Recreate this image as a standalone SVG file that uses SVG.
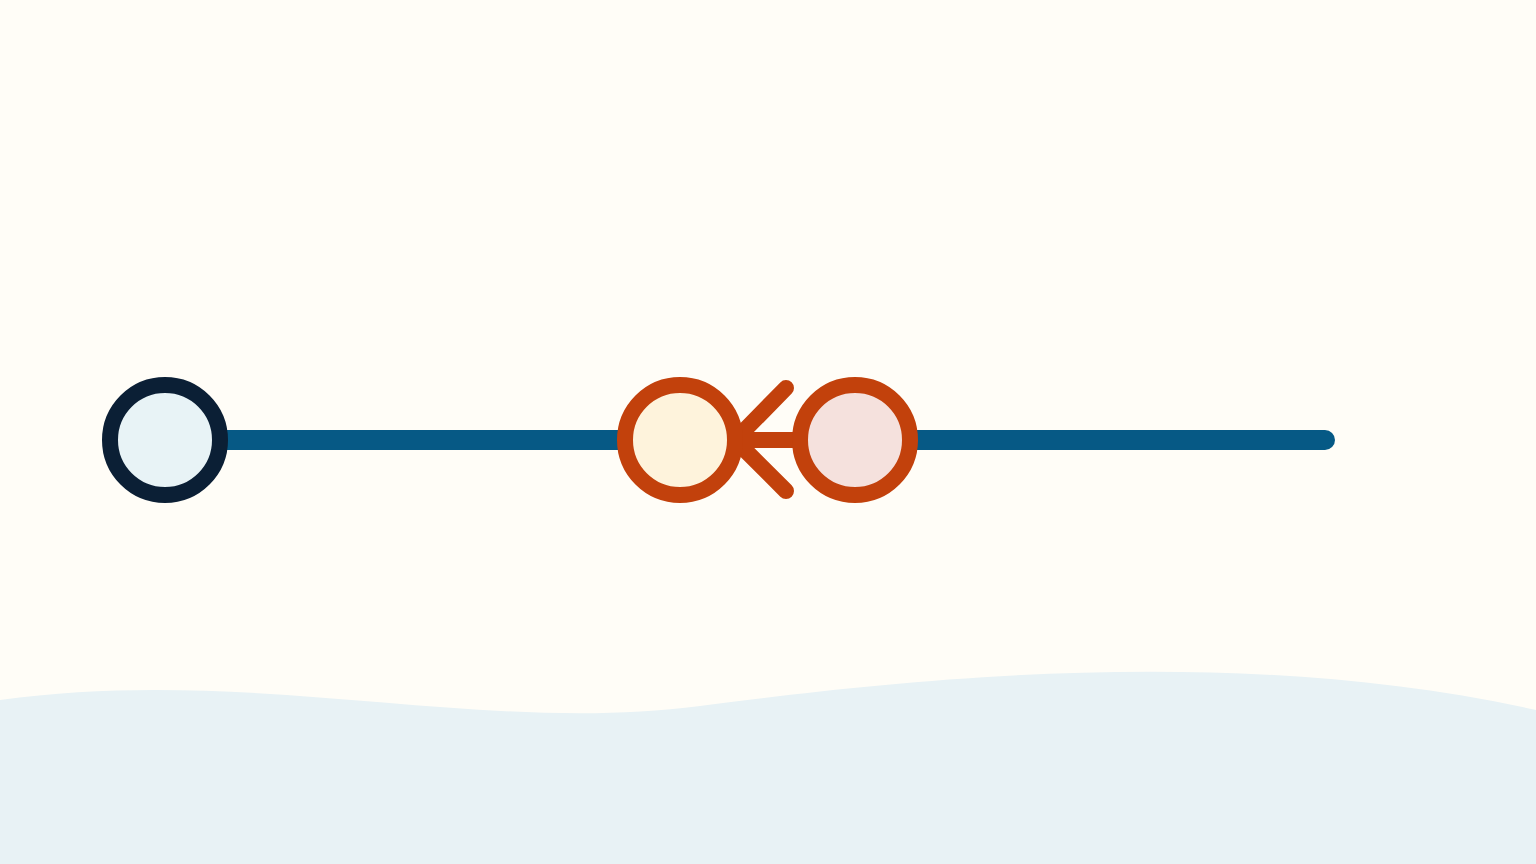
<svg xmlns="http://www.w3.org/2000/svg" width="1536" height="864" viewBox="0 0 1536 864">
<style>
.track{fill:none;stroke:#065985;stroke-width:20;stroke-linecap:round}
.hl{fill:none;stroke:#c2410c;stroke-width:16;stroke-linecap:round;stroke-linejoin:round}
.node{stroke-width:16}
</style>
<rect x="0" y="0" width="1536" height="864" fill="#fffdf7"/>
<path d="M0 700 C250 665 480 735 700 706 C900 680 1230 642 1536 710 V864 H0 Z" fill="#e8f2f5"/>
<g id="connectors">
<path class="track" d="M165 440 H680"/>
<path class="track" d="M855 440 H1325"/>
<path class="hl" d="M803 440 H735 M786 388 L735 440 L786 491"/>
</g>
<g id="node-start"><circle class="node" cx="165" cy="440" r="55" fill="#e8f3f6" stroke="#0b1f35"/></g>
<g id="node-a"><circle class="node" cx="680" cy="440" r="55" fill="#fef3dc" stroke="#c2410c"/></g>
<g id="node-b"><circle class="node" cx="855" cy="440" r="55" fill="#f5e1dd" stroke="#c2410c"/></g>
</svg>
